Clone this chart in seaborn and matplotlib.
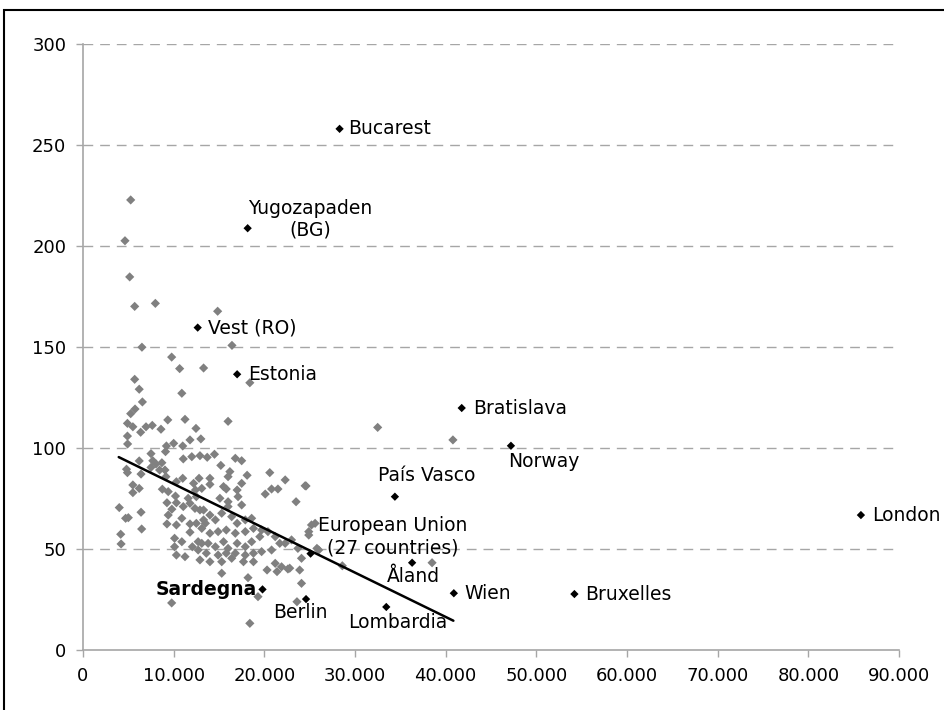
import matplotlib
matplotlib.use("Agg")
import matplotlib.pyplot as plt
import matplotlib.patches as mpatches
from matplotlib.ticker import FuncFormatter
import seaborn as sns
import pandas as pd

# ---- data (GDP per inhabitant in thousand EUR, value) ----
grey_x = [5.26, 4.63, 5.15, 5.70, 7.98, 14.85, 16.43, 6.50, 9.78, 10.66, 13.30, 5.70, 18.40,
          6.20, 10.90, 6.55, 5.74, 5.26, 16.00, 11.25, 9.35, 4.90, 5.50, 6.95, 7.64, 8.60, 6.36,
          12.46, 32.5, 40.8, 11.80, 13.00, 4.90, 4.92, 9.20, 10.00, 11.00,
          7.50, 9.10, 11.06, 12.00, 12.90, 13.70, 14.50, 15.20, 16.80, 17.50, 6.20, 7.70, 8.05,
          8.70, 7.50, 4.80, 4.90, 6.40, 8.45, 9.04, 9.15, 11.00, 10.30, 12.20, 12.80, 14.00,
          14.00, 15.50, 15.80, 16.00, 16.20, 17.50, 17.00, 18.10, 20.60, 22.30, 24.50, 20.10,
          20.80, 21.50, 23.50, 5.50, 6.20, 5.50, 8.75, 9.40, 10.20, 11.60, 12.40, 13.10, 12.50,
          15.10, 16.00, 17.10, 17.50, 16.00, 9.26, 10.30, 4.00, 11.06, 11.80, 12.35, 13.30,
          12.90, 9.80, 4.70, 5.00, 6.40, 9.40, 9.26, 10.30, 10.90, 11.80, 12.50, 13.30, 14.00,
          13.50, 14.60, 15.30, 16.40, 17.00, 17.90, 18.60, 18.80, 17.90, 16.80, 15.80, 14.90,
          14.00, 13.10, 6.47, 4.16, 4.20, 11.80, 10.10, 10.90, 10.10, 10.30, 11.25, 12.06,
          12.70, 13.10, 12.70, 13.80, 14.60, 15.50, 16.00, 17.00, 17.90, 18.60, 19.50, 19.70,
          20.40, 21.20, 21.70, 22.30, 23.00, 20.80, 19.70, 18.80, 17.90, 16.80, 15.80, 14.90,
          13.60, 12.90, 14.00, 15.30, 16.40, 17.70, 18.80, 20.30, 21.40, 21.90, 22.80, 21.20,
          24.10, 23.90, 24.10, 15.30, 18.20, 19.30, 23.60, 18.40, 9.78, 24.90, 25.20, 25.60,
          24.90, 23.70, 26.00, 25.80, 28.60, 38.50, 24.60, 22.60]
grey_y = [222.8, 202.6, 184.7, 170.1, 171.6, 167.7, 150.8, 149.9, 145.0, 139.3, 139.6, 134.0, 132.3,
          129.1, 127.1, 122.8, 119.3, 117.0, 113.2, 114.2, 113.9, 112.2, 110.5, 110.5, 111.2, 109.3, 107.8,
          109.7, 110.2, 104.0, 104.0, 104.5, 105.9, 102.0, 101.0, 102.3, 101.0,
          97.2, 98.2, 94.6, 95.7, 96.2, 95.4, 96.9, 91.4, 94.9, 93.7, 93.6, 93.7, 92.1,
          92.7, 90.4, 89.5, 87.8, 87.1, 89.1, 89.1, 85.8, 85.0, 83.3, 82.5, 85.0, 85.0,
          82.0, 80.9, 79.7, 85.8, 88.3, 82.5, 79.2, 86.5, 87.8, 84.2, 81.3, 77.2,
          79.7, 79.7, 73.4, 81.7, 80.0, 77.9, 79.6, 78.4, 76.2, 75.1, 79.2, 80.0, 75.9,
          75.1, 73.4, 75.9, 71.8, 71.0, 72.9, 72.9, 70.5, 71.0, 72.6, 70.1, 69.3,
          69.3, 69.7, 65.2, 65.5, 68.2, 66.8, 62.4, 61.9, 65.2, 62.4, 62.7, 64.4, 66.8,
          62.7, 64.4, 67.7, 66.0, 62.7, 64.4, 65.2, 60.2, 58.6, 57.8, 59.4, 58.6,
          57.8, 60.2, 59.9, 57.3, 52.5, 58.3, 55.3, 53.6, 51.1, 47.0, 46.2, 51.1,
          49.5, 52.8, 53.6, 52.8, 51.1, 53.6, 50.3, 52.8, 51.1, 53.6, 56.1, 59.4,
          58.6, 56.1, 52.8, 52.8, 54.5, 49.5, 48.7, 47.9, 47.0, 47.9, 47.9, 47.0,
          47.9, 44.6, 43.7, 43.7, 45.4, 43.7, 43.7, 39.6, 38.8, 41.2, 40.5, 42.9,
          45.4, 39.6, 33.0, 38.0, 35.8, 26.4, 23.9, 13.2, 23.3, 56.9, 61.9, 62.7,
          58.6, 50.3, 49.5, 50.3, 41.7, 43.2, 81.2, 40.1]

regions = ["Bucarest", "Yugozapaden\n(BG)", "Vest (RO)", "Estonia", "Bratislava", "Norway",
           "País Vasco", "European Union\n(27 countries)", "Åland", "Wien", "Lombardia",
           "Berlin", "Sardegna", "Bruxelles", "London"]
region_x = [28.3, 18.16, 12.65, 17.0, 41.77, 47.2, 34.4, 25.1, 36.3, 40.9, 33.45, 24.6, 19.8, 54.2, 85.8]
region_y = [258.0, 208.8, 159.6, 136.5, 119.8, 101.1, 75.9, 47.7, 43.2, 28.1, 21.3, 25.2, 30.0, 27.7, 66.8]

trend_x = [3.94, 40.85]
trend_y = [95.5, 14.5]

x_ticks = [0, 10000, 20000, 30000, 40000, 50000, 60000, 70000, 80000, 90000]
y_ticks = [0, 50, 100, 150, 200, 250, 300]

# label placement: (dx px, dy px up, ha, va)
label_pos = {
    "Bucarest": (9, 0, "left"),
    "Yugozapaden\n(BG)": (63, 9, "center"),
    "Vest (RO)": (10, 0, "left"),
    "Estonia": (11, 0, "left"),
    "Bratislava": (11, 0, "left"),
    "Norway": (-3, -16, "left"),
    "País Vasco": (32, 21, "center"),
    "European Union\n(27 countries)": (82, 17, "center"),
    "Åland": (1, -14, "center"),
    "Wien": (11, 0, "left"),
    "Lombardia": (11, -16, "center"),
    "Berlin": (-6, -13, "center"),
    "Sardegna": (-6, 0, "right"),
    "Bruxelles": (11, 0, "left"),
    "London": (11, 0, "left"),
}

sns.set_theme(style="white")
plt.rcParams['font.family'] = ['DejaVu Sans']

W, H = 945, 710
fig = plt.figure(figsize=(W / 100, H / 100), dpi=100)
ax = fig.add_axes([83 / W, 1 - 650 / H, (899 - 83) / W, (650 - 44) / H])

grey_df = pd.DataFrame({"x": [v * 1000 for v in grey_x], "y": grey_y})
reg_df = pd.DataFrame({"x": [v * 1000 for v in region_x], "y": region_y, "name": regions})
trend_df = pd.DataFrame({"x": [v * 1000 for v in trend_x], "y": trend_y})

for yv in y_ticks[1:]:
    ax.axhline(yv, color="#a6a6a6", lw=1.0, ls=(0, (7, 5)), zorder=0)

sns.scatterplot(data=grey_df, x="x", y="y", ax=ax, marker="D", s=22, color="#808080",
                edgecolor="none", linewidth=0, zorder=2)
sns.lineplot(data=trend_df, x="x", y="y", ax=ax, color="black", lw=1.8, sort=False, zorder=3)
sns.scatterplot(data=reg_df, x="x", y="y", ax=ax, marker="D", s=18, color="black",
                edgecolor="none", linewidth=0, zorder=4)

for name, xv, yv in zip(regions, region_x, region_y):
    dx, dy, ha = label_pos[name]
    ax.annotate(name, (xv * 1000, yv), xytext=(dx * 0.72, dy * 0.72), textcoords="offset points",
                ha=ha, va="center", multialignment="center", fontsize=13.5, color="black",
                fontweight="bold" if name == "Sardegna" else "normal", zorder=5,
                annotation_clip=False)

ax.set_xlim(0, 90000)
ax.set_ylim(0, 300)
ax.set_xticks(x_ticks)
ax.set_yticks(y_ticks)
ax.xaxis.set_major_formatter(FuncFormatter(lambda v, p: f"{int(v):,}".replace(",", ".")))
ax.set_xlabel("")
ax.set_ylabel("")
for s in ["top", "right"]:
    ax.spines[s].set_visible(False)
for s in ["left", "bottom"]:
    ax.spines[s].set_color("#a6a6a6")
    ax.spines[s].set_linewidth(1.2)
ax.tick_params(axis="both", which="major", direction="out", length=5, width=1.0,
               color="#a6a6a6", labelsize=13, labelcolor="black", pad=7,
               bottom=True, left=True)
ax.grid(False)
ax.set_facecolor("white")

# outer frame (only top and left edges fall inside the picture)
fig.patches.append(mpatches.Rectangle((4 / W, -0.2), 2.0, 1.2 - 10 / H, transform=fig.transFigure,
                                      fill=False, edgecolor="black", lw=1.5, zorder=10))

fig.savefig("out.png", dpi=100, facecolor="white")
